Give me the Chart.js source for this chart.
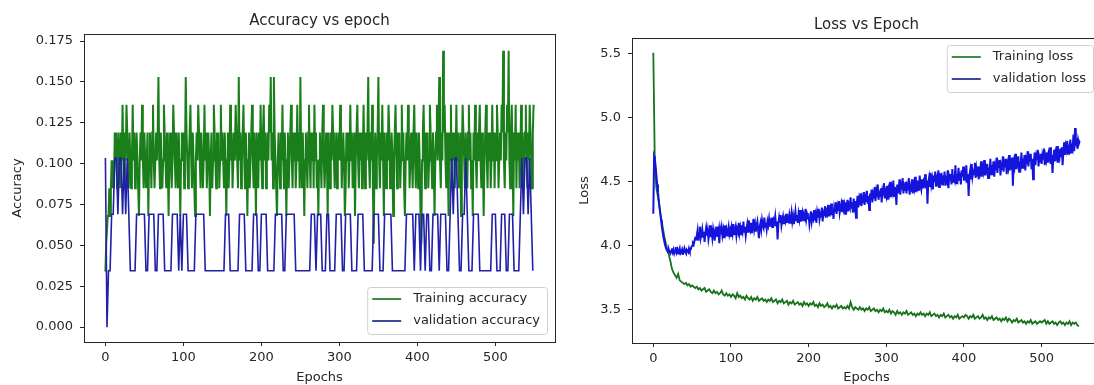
<!DOCTYPE html>
<html lang="en">
<head>
    <meta charset="UTF-8">
    <title>Accuracy and Loss vs Epoch</title>
    <script src="https://cdn.jsdelivr.net/npm/chart.js"></script>
    <style>
        body {
            margin: 0;
            background: #fff;
            overflow: hidden;
            width: 1094px;
            height: 385px;
            position: relative;
        }
        .panel {
            position: absolute;
            top: 0;
            height: 385px;
        }
        #acc-panel { left: 0; width: 560px; }
        #loss-panel { left: 560px; width: 545px; }
    </style>
</head>
<body>
    <div class="panel" id="acc-panel"><canvas id="acc-chart"></canvas></div>
    <div class="panel" id="loss-panel"><canvas id="loss-chart"></canvas></div>
    <script>
        // values
        // every epoch (0 .. 549)
        const trainAcc = [
            .034,.051,.051,.068,.068,.085,.068,.085,.102,.085,.102,.085,.119,.102,.119,.085,.102,.119,.102,.085,.119,.102,.136,.102,.085,
            .119,.102,.136,.119,.102,.085,.119,.102,.085,.102,.136,.102,.119,.085,.102,.119,.102,.085,.068,.102,.119,.102,.136,.102,.085,
            .119,.102,.085,.102,.119,.068,.102,.119,.102,.085,.119,.136,.102,.085,.102,.119,.102,.119,.153,.102,.085,.119,.102,.085,.102,
            .136,.119,.102,.085,.119,.102,.068,.102,.119,.102,.085,.102,.136,.119,.102,.085,.119,.102,.085,.119,.102,.068,.102,.119,.102,
            .119,.085,.102,.153,.119,.102,.085,.102,.119,.136,.102,.085,.119,.102,.085,.068,.102,.119,.102,.136,.119,.102,.085,.119,.102,
            .085,.102,.136,.102,.119,.085,.102,.119,.102,.068,.102,.119,.085,.102,.136,.119,.102,.085,.119,.102,.119,.085,.102,.136,.102,
            .119,.102,.085,.119,.102,.068,.102,.119,.085,.102,.136,.102,.119,.085,.102,.119,.102,.136,.119,.102,.085,.153,.102,.119,.085,
            .102,.119,.136,.102,.085,.119,.102,.068,.102,.119,.085,.102,.119,.136,.102,.085,.119,.102,.068,.119,.102,.085,.119,.102,.136,
            .102,.085,.119,.136,.102,.119,.085,.102,.119,.102,.136,.119,.153,.102,.119,.085,.153,.119,.102,.085,.068,.102,.119,.102,.085,
            .119,.102,.136,.102,.085,.119,.102,.068,.102,.119,.085,.102,.119,.136,.102,.085,.119,.102,.119,.085,.102,.136,.102,.119,.085,
            .153,.102,.085,.119,.102,.068,.102,.119,.102,.085,.119,.136,.102,.085,.119,.102,.119,.085,.136,.102,.119,.085,.102,.068,.102,
            .119,.102,.085,.119,.136,.102,.085,.102,.119,.102,.068,.119,.102,.085,.119,.102,.136,.119,.102,.085,.102,.119,.085,.102,.119,
            .102,.136,.119,.085,.102,.119,.102,.068,.085,.119,.102,.119,.085,.102,.136,.102,.119,.085,.102,.119,.068,.102,.119,.136,.102,
            .085,.119,.102,.119,.085,.102,.136,.102,.085,.119,.102,.119,.153,.102,.085,.119,.102,.136,.085,.051,.102,.119,.085,.102,.119,
            .153,.102,.085,.119,.102,.136,.102,.068,.119,.102,.085,.119,.102,.136,.119,.085,.102,.119,.102,.068,.102,.119,.136,.102,.085,
            .119,.102,.119,.085,.102,.136,.102,.119,.085,.068,.102,.119,.102,.136,.119,.085,.102,.119,.102,.085,.119,.136,.102,.085,.119,
            .102,.085,.119,.102,.068,.051,.102,.119,.136,.102,.085,.119,.102,.119,.085,.102,.136,.119,.102,.085,.119,.102,.068,.102,.119,
            .136,.102,.119,.153,.102,.085,.119,.102,.169,.119,.136,.102,.085,.119,.102,.068,.119,.102,.136,.085,.119,.102,.119,.085,.102,
            .136,.102,.119,.085,.102,.119,.068,.102,.136,.119,.102,.085,.119,.102,.085,.119,.136,.102,.119,.085,.102,.068,.119,.102,.136,
            .102,.085,.119,.102,.119,.136,.102,.085,.119,.102,.068,.102,.119,.136,.102,.085,.119,.102,.119,.085,.102,.136,.102,.119,.085,
            .119,.102,.136,.119,.085,.102,.119,.102,.136,.119,.169,.102,.085,.119,.102,.136,.119,.169,.102,.085,.119,.136,.102,.068,.119,
            .102,.136,.085,.119,.102,.119,.085,.102,.136,.102,.119,.085,.102,.119,.136,.102,.085,.119,.102,.136,.119,.102,.085,.119,.136
        ];
        const valLoss = [
            4.25,4.70,4.68,4.62,4.55,4.48,4.42,4.36,4.30,4.25,4.20,4.15,4.11,4.07,4.04,4.01,3.99,3.97,3.96,3.95,3.97,3.95,3.94,3.96,3.98,
            3.95,3.97,3.94,3.96,3.99,3.95,3.97,3.94,3.96,3.98,3.94,3.95,3.97,3.93,3.96,3.98,3.95,3.94,3.97,3.96,3.95,3.98,3.96,3.97,3.99,
            4.00,4.02,4.01,4.04,4.06,4.05,4.08,4.12,4.04,4.10,4.15,4.06,4.09,4.13,4.07,4.11,4.03,4.10,4.14,4.08,4.12,4.05,4.09,4.16,4.07,
            4.11,4.06,4.13,4.09,4.04,4.12,4.10,4.15,4.07,4.11,4.02,4.13,4.09,4.14,4.08,4.12,4.06,4.16,4.10,4.13,4.08,4.11,4.15,4.09,4.12,
            4.07,4.14,4.10,4.17,4.09,4.12,4.15,4.08,4.13,4.11,4.18,4.10,4.14,4.09,4.16,4.12,4.19,4.11,4.15,4.08,4.13,4.17,4.11,4.20,4.14,
            4.12,4.18,4.10,4.15,4.21,4.13,4.17,4.11,4.16,4.19,4.12,4.06,4.15,4.18,4.13,4.20,4.16,4.14,4.22,4.15,4.18,4.13,4.19,4.16,4.21,
            4.15,4.19,4.17,4.22,4.14,4.20,4.18,4.23,4.16,4.19,4.05,4.17,4.22,4.18,4.24,4.16,4.20,4.23,4.17,4.21,4.19,4.25,4.18,4.22,4.20,
            4.24,4.18,4.21,4.26,4.19,4.23,4.17,4.22,4.27,4.20,4.24,4.18,4.25,4.21,4.28,4.19,4.23,4.26,4.20,4.24,4.22,4.29,4.21,4.25,4.23,
            4.24,4.17,4.22,4.27,4.19,4.23,4.21,4.28,4.20,4.24,4.18,4.26,4.22,4.29,4.21,4.25,4.23,4.30,4.19,4.26,4.24,4.31,4.22,4.27,4.25,
            4.32,4.23,4.28,4.26,4.33,4.24,4.29,4.21,4.30,4.27,4.34,4.25,4.31,4.28,4.35,4.26,4.30,4.33,4.27,4.36,4.29,4.32,4.25,4.34,4.30,
            4.36,4.27,4.32,4.30,4.38,4.29,4.34,4.26,4.37,4.31,4.35,4.22,4.33,4.39,4.30,4.36,4.32,4.41,4.31,4.37,4.34,4.42,4.32,4.38,4.35,
            4.43,4.33,4.39,4.28,4.41,4.36,4.44,4.34,4.40,4.37,4.46,4.35,4.42,4.38,4.48,4.36,4.41,4.39,4.45,4.34,4.43,4.40,4.49,4.37,4.42,
            4.39,4.47,4.36,4.44,4.41,4.50,4.38,4.45,4.42,4.51,4.39,4.46,4.43,4.32,4.48,4.41,4.45,4.52,4.40,4.47,4.44,4.53,4.41,4.46,4.43,
            4.50,4.41,4.47,4.44,4.53,4.40,4.46,4.43,4.52,4.41,4.48,4.45,4.54,4.42,4.49,4.46,4.51,4.43,4.55,4.47,4.44,4.52,4.45,4.50,4.48,
            4.56,4.45,4.51,4.33,4.49,4.53,4.46,4.57,4.48,4.52,4.44,4.55,4.50,4.58,4.47,4.53,4.51,4.59,4.46,4.54,4.52,4.57,4.48,4.55,4.50,
            4.58,4.47,4.52,4.50,4.59,4.45,4.54,4.51,4.56,4.48,4.60,4.50,4.55,4.52,4.63,4.49,4.56,4.53,4.61,4.51,4.57,4.48,4.59,4.54,4.62,
            4.51,4.57,4.54,4.63,4.50,4.56,4.39,4.55,4.59,4.52,4.64,4.54,4.58,4.56,4.65,4.53,4.60,4.55,4.62,4.52,4.59,4.57,4.66,4.54,4.61,
            4.58,4.67,4.55,4.62,4.59,4.64,4.53,4.61,4.58,4.68,4.56,4.63,4.60,4.66,4.54,4.62,4.59,4.69,4.57,4.64,4.61,4.67,4.55,4.63,4.60,
            4.70,4.58,4.65,4.62,4.68,4.56,4.64,4.61,4.71,4.59,4.66,4.63,4.69,4.47,4.65,4.62,4.72,4.60,4.67,4.64,4.70,4.58,4.66,4.63,4.73,
            4.61,4.68,4.65,4.71,4.59,4.67,4.64,4.74,4.62,4.69,4.66,4.72,4.60,4.68,4.52,4.65,4.73,4.63,4.70,4.67,4.75,4.62,4.69,4.66,4.72,
            4.64,4.71,4.68,4.76,4.63,4.70,4.67,4.73,4.65,4.72,4.69,4.77,4.64,4.71,4.57,4.68,4.75,4.66,4.73,4.70,4.78,4.65,4.72,4.69,4.76,
            4.70,4.77,4.63,4.74,4.81,4.71,4.78,4.75,4.82,4.72,4.79,4.76,4.83,4.73,4.80,4.77,4.87,4.74,4.92,4.78,4.84,4.76,4.83,4.80,4.82
        ];
        // every 2nd epoch (0, 2, ... 548)
        const valAcc = [
            .1034,0,.0345,.0345,.069,.069,.1034,.1034,.069,.1034,.1034,.069,.1034,.069,.1034,.069,.0345,.0345,.0345,.0345,.069,.069,.069,.069,.069,
            .069,.0345,.0345,.069,.069,.069,.069,.0345,.0345,.069,.069,.069,.069,.0345,.0345,.0345,.0345,.0345,.069,.069,.069,.069,.0345,.069,.0345,
            .069,.069,.069,.0345,.0345,.0345,.0345,.0345,.069,.069,.069,.069,.069,.069,.0345,.0345,.0345,.0345,.0345,.0345,.0345,.0345,.0345,.0345,.0345,
            .0345,.0345,.069,.069,.069,.0345,.0345,.0345,.0345,.0345,.0345,.069,.069,.069,.069,.0345,.0345,.0345,.0345,.0345,.069,.069,.069,.0345,.0345,
            .069,.069,.069,.069,.0345,.0345,.0345,.0345,.0345,.069,.069,.069,.069,.069,.0345,.0345,.069,.069,.069,.069,.069,.069,.0345,.0345,.0345,
            .0345,.0345,.0345,.0345,.0345,.0345,.0345,.069,.069,.069,.0345,.069,.069,.069,.0345,.0345,.0345,.069,.069,.0345,.0345,.0345,.0345,.069,.069,
            .069,.069,.0345,.0345,.069,.069,.069,.069,.0345,.0345,.0345,.0345,.069,.069,.069,.069,.0345,.0345,.0345,.0345,.0345,.0345,.069,.069,.069,
            .069,.0345,.0345,.0345,.069,.069,.069,.069,.069,.0345,.0345,.0345,.0345,.0345,.0345,.0345,.0345,.0345,.069,.069,.069,.069,.069,.0345,.069,
            .069,.069,.0345,.069,.069,.0345,.069,.069,.0345,.0345,.069,.069,.069,.069,.0345,.069,.069,.069,.069,.0345,.0345,.069,.1034,.069,.1034,
            .1034,.069,.0345,.0345,.069,.069,.1034,.069,.0345,.0345,.0345,.069,.069,.069,.069,.0345,.0345,.0345,.0345,.0345,.0345,.0345,.0345,.069,.069,
            .069,.0345,.0345,.0345,.069,.069,.069,.0345,.0345,.069,.069,.069,.0345,.0345,.0345,.0345,.069,.1034,.069,.1034,.1034,.069,.1034,.069,.0345
        ];
        const trainLoss = [
            5.51,4.60,4.45,4.38,4.30,4.22,4.15,4.08,4.02,3.97,3.93,3.88,3.82,3.79,3.77,3.75,3.78,3.73,3.72,3.71,3.70,3.71,3.69,3.70,3.68,
            3.69,3.68,3.67,3.68,3.66,3.67,3.65,3.66,3.67,3.64,3.65,3.66,3.64,3.63,3.65,3.63,3.64,3.62,3.63,3.65,3.62,3.61,3.63,3.61,3.62,
            3.60,3.62,3.61,3.59,3.63,3.60,3.61,3.59,3.60,3.58,3.61,3.59,3.58,3.60,3.57,3.59,3.58,3.60,3.57,3.58,3.59,3.57,3.58,3.56,3.58,
            3.57,3.59,3.56,3.57,3.58,3.55,3.57,3.56,3.58,3.55,3.56,3.57,3.54,3.56,3.55,3.57,3.54,3.55,3.56,3.54,3.55,3.53,3.56,3.54,3.55,
            3.53,3.55,3.54,3.56,3.53,3.54,3.52,3.55,3.53,3.54,3.52,3.53,3.55,3.52,3.53,3.51,3.53,3.52,3.54,3.51,3.52,3.53,3.51,3.52,3.51,
            3.53,3.51,3.56,3.52,3.50,3.52,3.51,3.50,3.52,3.50,3.51,3.49,3.51,3.50,3.52,3.49,3.50,3.51,3.49,3.50,3.48,3.50,3.49,3.51,3.48,
            3.49,3.48,3.50,3.47,3.49,3.48,3.46,3.49,3.47,3.48,3.46,3.48,3.47,3.49,3.46,3.47,3.48,3.46,3.47,3.45,3.47,3.46,3.48,3.46,3.47,
            3.45,3.47,3.46,3.48,3.45,3.46,3.47,3.45,3.46,3.44,3.46,3.45,3.47,3.44,3.45,3.46,3.44,3.45,3.43,3.45,3.44,3.46,3.43,3.44,3.45,
            3.44,3.46,3.45,3.43,3.45,3.44,3.46,3.43,3.44,3.45,3.43,3.44,3.46,3.43,3.44,3.42,3.44,3.43,3.45,3.42,3.43,3.44,3.42,3.43,3.41,
            3.43,3.42,3.44,3.41,3.43,3.42,3.40,3.42,3.41,3.43,3.40,3.41,3.42,3.40,3.41,3.39,3.41,3.40,3.42,3.39,3.40,3.41,3.39,3.40,3.41,
            3.40,3.41,3.42,3.39,3.41,3.39,3.40,3.41,3.39,3.40,3.38,3.40,3.41,3.39,3.40,3.38,3.40,3.39,3.41,3.38,3.40,3.39,3.40,3.38,3.37
        ];
        const epochsEach = trainAcc.map((_, i) => i);
        const epochsEvery2 = valAcc.map((_, i) => i * 2);

        const epochTicks = [0, 100, 200, 300, 400, 500];
        const accTicks = [0, 0.025, 0.05, 0.075, 0.1, 0.125, 0.15, 0.175];
        const lossTicks = [3.5, 4.0, 4.5, 5.0, 5.5];

        const FONT = 'DejaVu Sans';
        const INK = '#262626';

        const toPoints = (vals, xs) => vals.map((v, i) => ({ x: xs[i], y: v }));

        // matplotlib style box around the plot area
        const framePlugin = {
            id: 'frame',
            afterDatasetsDraw(chart) {
                const a = chart.chartArea;
                const ctx = chart.ctx;
                ctx.save();
                ctx.strokeStyle = INK;
                ctx.lineWidth = 1;
                ctx.strokeRect(Math.round(a.left) + 0.5, Math.round(a.top) + 0.5,
                    Math.round(a.right - a.left), Math.round(a.bottom - a.top));
                ctx.restore();
            }
        };

        // legend drawn inside the plot area with a line sample per dataset
        const boxLegend = {
            id: 'boxLegend',
            afterDraw(chart, args, opts) {
                const a = chart.chartArea;
                const ctx = chart.ctx;
                const sets = chart.data.datasets;
                ctx.save();
                ctx.font = '13px "' + FONT + '"';
                const textW = Math.max(...sets.map(d => ctx.measureText(d.label).width));
                const w = 5 + 29 + 12 + textW + 7;
                const h = 47;
                const x = a.right - 8 - w;
                const y = opts.corner === 'upper' ? a.top + 7 : a.bottom - 8 - h;
                ctx.fillStyle = 'rgba(255,255,255,0.85)';
                ctx.strokeStyle = '#d0d0d0';
                ctx.lineWidth = 1;
                ctx.beginPath();
                ctx.roundRect(x + 0.5, y + 0.5, w, h, 3);
                ctx.fill();
                ctx.stroke();
                sets.forEach((d, i) => {
                    const cy = y + 12 + i * 22;
                    ctx.strokeStyle = opts.colors[i];
                    ctx.lineWidth = 1.8;
                    ctx.beginPath();
                    ctx.moveTo(x + 5, cy);
                    ctx.lineTo(x + 34, cy);
                    ctx.stroke();
                    ctx.fillStyle = INK;
                    ctx.textBaseline = 'middle';
                    ctx.fillText(d.label, x + 46, cy);
                });
                ctx.restore();
            }
        };

        function makeChart(id, cfg) {
            return new Chart(document.getElementById(id), {
                type: 'line',
                data: {
                    datasets: [
                        {
                            label: cfg.labels[0],
                            data: toPoints(cfg.train, cfg.trainX),
                            borderColor: cfg.colors[0],
                            borderWidth: cfg.widths[0],
                            pointRadius: 0,
                            order: 1
                        },
                        {
                            label: cfg.labels[1],
                            data: toPoints(cfg.val, cfg.valX),
                            borderColor: cfg.colors[1],
                            borderWidth: cfg.widths[1],
                            pointRadius: 0,
                            order: 0
                        }
                    ]
                },
                options: {
                    responsive: true,
                    maintainAspectRatio: false,
                    animation: false,
                    layout: { padding: { top: 0, left: 0, right: cfg.padRight, bottom: 0 } },
                    plugins: {
                        legend: { display: false },
                        tooltip: { enabled: false },
                        title: {
                            display: true,
                            text: cfg.title,
                            fullSize: false,
                            color: INK,
                            font: { family: FONT, size: 15, weight: 'normal' },
                            padding: { top: cfg.titleTop, bottom: cfg.titleBottom }
                        },
                        boxLegend: { corner: cfg.corner, colors: cfg.legendColors }
                    },
                    scales: {
                        x: {
                            type: 'linear',
                            min: -27.45,
                            max: 576.45,
                            afterBuildTicks: (s) => { s.ticks = epochTicks.map(v => ({ value: v })); },
                            afterFit: (s) => { s.height = cfg.xHeight; },
                            grid: { drawOnChartArea: false, drawTicks: true, tickLength: 4, color: INK },
                            border: { display: false },
                            ticks: { color: INK, padding: 4, maxRotation: 0, font: { family: FONT, size: 13 } },
                            title: {
                                display: true, text: 'Epochs', color: INK,
                                font: { family: FONT, size: 13 }, padding: { top: 0, bottom: 0 }
                            }
                        },
                        y: {
                            min: cfg.yMin,
                            max: cfg.yMax,
                            afterBuildTicks: (s) => { s.ticks = cfg.yTicks.map(v => ({ value: v })); },
                            afterFit: (s) => { s.width = cfg.yWidth; },
                            grid: { drawOnChartArea: false, drawTicks: true, tickLength: 4, color: INK },
                            border: { display: false },
                            ticks: {
                                color: INK, padding: 7, font: { family: FONT, size: 13 },
                                callback: (v) => Number(v).toFixed(cfg.digits)
                            },
                            title: {
                                display: true, text: cfg.yTitle, color: INK,
                                font: { family: FONT, size: 13 }, padding: { top: cfg.yTitlePad, bottom: 0 }
                            }
                        }
                    }
                },
                plugins: [framePlugin, boxLegend]
            });
        }

        makeChart('acc-chart', {
            title: 'Accuracy vs epoch',
            labels: ['Training accuracy', 'validation accuracy'],
            train: trainAcc,
            trainX: epochsEach,
            val: valAcc,
            valX: epochsEvery2,
            colors: ['#1a7f1a', '#2020a8'],
            widths: [2, 1.6],
            legendColors: ['#2e7d32', '#283593'],
            corner: 'lower',
            padRight: 5,
            titleTop: 12,
            titleBottom: 4,
            xHeight: 43,
            yWidth: 84,
            yMin: -0.0091,
            yMax: 0.1793,
            yTicks: accTicks,
            digits: 3,
            yTitle: 'Accuracy',
            yTitlePad: 10
        });

        makeChart('loss-chart', {
            title: 'Loss vs Epoch',
            labels: ['Training loss', 'validation loss'],
            train: trainLoss,
            trainX: epochsEvery2,
            val: valLoss,
            valX: epochsEach,
            colors: ['#17731a', '#1414dc'],
            widths: [1.8, 2],
            legendColors: ['#2e7d32', '#283593'],
            corner: 'upper',
            padRight: 4,
            titleTop: 16,
            titleBottom: 4,
            xHeight: 42,
            yWidth: 72,
            yMin: 3.24,
            yMax: 5.625,
            yTicks: lossTicks,
            digits: 1,
            yTitle: 'Loss',
            yTitlePad: 17
        });
    </script>
</body>
</html>
